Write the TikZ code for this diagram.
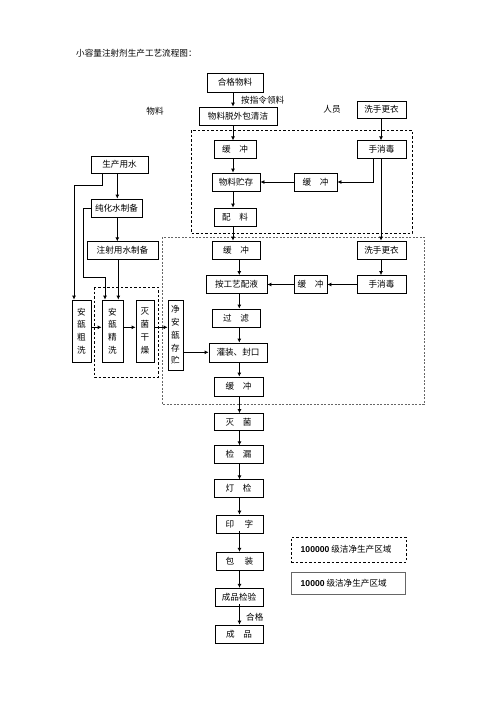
\documentclass[tikz,border=0pt]{standalone}
\usepackage{fontspec}
\setmainfont{Noto Sans CJK SC}
\newfontfamily\latinb{Liberation Sans}
\usetikzlibrary{arrows.meta}
\begin{document}
\begin{tikzpicture}[x=1pt,y=-1pt,
  every node/.style={font=\fontsize{8.6}{10}\selectfont},
  bx/.style={draw,line width=0.8pt,inner sep=0pt,minimum height=18pt},
  vbx/.style={draw,line width=0.8pt,inner sep=0pt,align=center,font=\fontsize{8.6}{12.8}\selectfont},
  arr/.style={line width=0.8pt,-{Latex[length=4pt,width=4pt]}},
  ln/.style={line width=0.8pt},
  zoneA/.style={draw,line width=0.8pt,dash pattern=on 2.5pt off 2pt},
  zoneB/.style={draw,gray!80!black,line width=0.5pt,dash pattern=on 2pt off 1.5pt},
  lbl/.style={inner sep=0pt}]
\useasboundingbox (0,0) rectangle (496,702);
\fill[white] (0,0) rectangle (496,702);
% zones
\draw[zoneA] (191,130) rectangle (412,233);
\draw[zoneA] (94,287) rectangle (158,377);
\draw[zoneB] (162,237) rectangle (424,404);
% title and labels
\node[lbl,anchor=west] (title) at (76,53) {小容量注射剂生产工艺流程图：};
\node[lbl,anchor=west] (lingliao) at (241,100) {按指令领料};
\node[lbl] (wuliao) at (155,111) {物料};
\node[lbl] (renyuan) at (332,109) {人员};
% material column
\node[bx,minimum width=56pt,minimum height=19pt] (hege) at (235,82.5) {合格物料};
\node[bx,minimum width=78pt] (tuobao) at (238,116) {物料脱外包清洁};
\node[bx,minimum width=49pt,minimum height=17pt] (xishou1) at (381.5,109.5) {洗手更衣};
\node[bx,minimum width=42pt,minimum height=17.5pt] (huanA) at (235,149.5) {缓\hspace{1em}冲};
\node[bx,minimum width=49pt,minimum height=17.5pt] (xiaodu1) at (381.5,149.5) {手消毒};
\node[bx,minimum width=48pt] (zhucun) at (236,182) {物料贮存};
\node[bx,minimum width=43pt] (huanM) at (315.5,182) {缓\hspace{1em}冲};
\node[bx,minimum width=42pt] (peiliao) at (235,217) {配\hspace{1em}料};
% 10000 zone
\node[bx,minimum width=48pt] (huanB) at (236,250) {缓\hspace{1em}冲};
\node[bx,minimum width=49pt] (xishou2) at (381.5,250) {洗手更衣};
\node[bx,minimum width=61pt] (peiye) at (236.5,284.5) {按工艺配液};
\node[bx,minimum width=33pt] (huanN) at (310.5,284.5) {缓\hspace{1em}冲};
\node[bx,minimum width=49pt] (xiaodu2) at (381.5,284.5) {手消毒};
\node[bx,minimum width=48pt] (guolv) at (236,318) {过\hspace{1em}滤};
\node[bx,minimum width=58pt,minimum height=19pt] (guanzhuang) at (238,352.5) {灌装、封口};
\node[bx,minimum width=49pt,minimum height=19pt] (huanC) at (238.5,386.5) {缓\hspace{1em}冲};
% lower column
\node[bx,minimum width=49pt,minimum height=17pt] (miejun) at (238.5,422) {灭\hspace{1em}菌};
\node[bx,minimum width=49pt,minimum height=17.5pt] (jianlou) at (238.5,454.5) {检\hspace{1em}漏};
\node[bx,minimum width=49pt,minimum height=17.5pt] (dengjian) at (238.5,488.5) {灯\hspace{1em}检};
\node[bx,minimum width=47pt] (yinzi) at (239.5,524) {印\hspace{1.2em}字};
\node[bx,minimum width=47pt,minimum height=18.5pt] (baozhuang) at (239.5,561.5) {包\hspace{1.2em}装};
\node[bx,minimum width=48pt,minimum height=18.5pt] (jianyan) at (239,597.5) {成品检验};
\node[bx,minimum width=48pt] (chengpin) at (239,634) {成\hspace{1em}品};
\node[lbl,anchor=west] (hegeLbl) at (246,617) {合格};
% water / ampoule side
\node[bx,minimum width=57pt,minimum height=17pt] (shengchan) at (119.5,164.5) {生产用水};
\node[bx,minimum width=51pt] (chunhua) at (116.5,208) {纯化水制备};
\node[bx,minimum width=71pt,minimum height=17.5pt] (zhushe) at (122.5,250.5) {注射用水制备};
\node[vbx,minimum width=19pt,minimum height=62pt] (cuxi) at (81.5,331) {安\\瓿\\粗\\洗};
\node[vbx,minimum width=21pt,minimum height=62pt] (jingxi) at (112.5,331) {安\\瓿\\精\\洗};
\node[vbx,minimum width=18pt,minimum height=62pt] (ganzao) at (145,331) {灭\\菌\\干\\燥};
\node[vbx,minimum width=15pt,minimum height=70pt] (jingcun) at (175.5,335) {净\\安\\瓿\\存\\贮};
% legend
\node[zoneA,minimum width=115pt,minimum height=25pt,inner sep=0pt] (legA) at (348.5,549.5) {};
\node[lbl,anchor=west] (legAt) at (300.5,549.5) {{\latinb\bfseries 100000} 级洁净生产区域};
\node[draw,gray!80!black,line width=0.5pt,minimum width=114pt,minimum height=22pt,inner sep=0pt] (legB) at (348,583) {};
\node[lbl,anchor=west] (legBt) at (300.5,583) {{\latinb\bfseries 10000} 级洁净生产区域};
% connectors: material column
\draw[arr] (hege.south -| 233,0) -- (tuobao.north -| 233,0);
\draw[arr] (tuobao.south -| 233,0) -- (huanA.north -| 233,0);
\draw[arr] (huanA.south -| 233,0) -- (zhucun.north -| 233,0);
\draw[arr] (zhucun.south -| 233,0) -- (peiliao.north -| 233,0);
\draw[arr] (peiliao.south -| 233,0) -- (huanB.north -| 233,0);
\draw[arr] (xishou1.south -| 381,0) -- (xiaodu1.north -| 381,0);
\draw[arr] (xiaodu1.south -| 381,0) -- (xishou2.north -| 381,0);
\draw[arr] (xiaodu1.south -| 373.3,0) |- (huanM.east);
\draw[arr] (huanM.west) -- (zhucun.east);
% 10000 zone
\draw[arr] (huanB.south -| 239.3,0) -- (peiye.north -| 239.3,0);
\draw[arr] (xishou2.south -| 381,0) -- (xiaodu2.north -| 381,0);
\draw[arr] (xiaodu2.west) -- (huanN.east);
\draw[arr] (huanN.west) -- (peiye.east);
\draw[arr] (peiye.south -| 239.3,0) -- (guolv.north -| 239.3,0);
\draw[arr] (guolv.south -| 239.3,0) -- (guanzhuang.north -| 239.3,0);
\draw[arr] (guanzhuang.south -| 239.3,0) -- (huanC.north -| 239.3,0);
\draw[arr] (huanC.south -| 239.5,0) -- (miejun.north -| 239.5,0);
\draw[arr] (miejun.south -| 239.5,0) -- (jianlou.north -| 239.5,0);
\draw[arr] (jianlou.south -| 239.5,0) -- (dengjian.north -| 239.5,0);
\draw[arr] (dengjian.south -| 239.5,0) -- (yinzi.north -| 239.5,0);
\draw[arr] ([yshift=2.5pt]yinzi.south -| 239.5,0) -- (baozhuang.north -| 239.5,0);
\draw[arr] (baozhuang.south -| 239.5,0) -- (jianyan.north -| 239.5,0);
\draw[arr] ([yshift=3pt]jianyan.south -| 239.5,0) -- (chengpin.north -| 239.5,0);
% water side
\draw[arr] (shengchan.south -| 117.3,0) -- (chunhua.north -| 117.3,0);
\draw[arr] (shengchan.south -| 102.7,0) -- (102.7,185) -- (74,185) -- (cuxi.north -| 74,0);
\draw[arr] (chunhua.south -| 117.3,0) -- (zhushe.north -| 117.3,0);
\draw[arr] (zhushe.south -| 118.3,0) -- (jingxi.north -| 118.3,0);
\draw[arr] (chunhua.west) -- (83.3,208) -- (83.3,277) -- (105,277) -- (jingxi.north -| 105,0);
\draw[arr] (cuxi.east |- 0,327.3) -- (jingxi.west |- 0,327.3);
\draw[arr] (jingxi.east |- 0,327.3) -- (ganzao.west |- 0,327.3);
\draw[arr] (ganzao.east |- 0,327.3) -- (jingcun.west |- 0,327.3);
\draw[arr] (jingcun.east |- 0,352.3) -- (guanzhuang.west |- 0,352.3);
\end{tikzpicture}
\end{document}
